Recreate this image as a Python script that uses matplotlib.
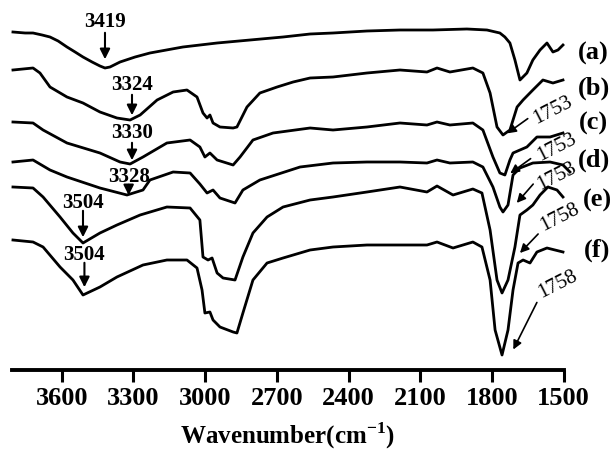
import matplotlib
matplotlib.use("Agg")
import matplotlib.pyplot as plt

plt.rcParams['font.family'] = ['Liberation Serif', 'DejaVu Serif']
plt.rcParams['mathtext.fontset'] = 'custom'
plt.rcParams['mathtext.rm'] = 'Liberation Serif:bold'
plt.rcParams['mathtext.bf'] = 'Liberation Serif:bold'

# ---- data: wavenumber (cm-1) and offset transmittance (a.u.) ----
wn_a = [3804, 3753, 3720, 3682, 3649, 3615, 3578, 3544, 3511, 3473, 3440, 3419, 3398, 3356, 3293,
        3231, 3093, 2950, 2812, 2674, 2561, 2465, 2323, 2185, 2047, 1905, 1821, 1767, 1746, 1725,
        1704, 1683, 1654, 1629, 1599, 1570, 1545, 1524, 1503]
t_a = [338, 337, 337, 335, 333, 329, 323, 318, 313, 308, 304, 302, 303, 308, 313,
       317, 323, 327, 330, 333, 336, 337, 339, 340, 340, 341, 340, 337, 333, 327,
       310, 290, 297, 310, 320, 327, 318, 320, 325]

wn_b = [3804, 3720, 3691, 3649, 3578, 3511, 3440, 3369, 3314, 3272, 3201, 3134, 3076, 3034, 3009,
        2992, 2980, 2967, 2938, 2883, 2867, 2825, 2771, 2699, 2632, 2561, 2465, 2323, 2185, 2072,
        2030, 1976, 1880, 1838, 1808, 1779, 1754, 1725, 1695, 1670, 1629, 1587, 1545, 1503]
t_b = [300, 302, 297, 283, 273, 267, 258, 252, 250, 255, 270, 278, 280, 273, 257,
       252, 255, 247, 243, 242, 243, 263, 277, 283, 288, 292, 293, 297, 300, 298,
       302, 298, 302, 297, 277, 243, 235, 240, 263, 270, 280, 290, 287, 290]

wn_c = [3804, 3720, 3678, 3578, 3440, 3356, 3314, 3260, 3160, 3063, 3022, 3001, 2980, 2950, 2883,
        2854, 2800, 2716, 2561, 2465, 2323, 2185, 2072, 2030, 1976, 1880, 1838, 1796, 1767, 1746,
        1725, 1712, 1654, 1612, 1557, 1503]
t_c = [248, 247, 240, 227, 217, 208, 206, 213, 227, 230, 223, 213, 217, 210, 205,
       213, 230, 237, 242, 240, 243, 247, 245, 248, 245, 247, 240, 213, 197, 195,
       210, 217, 223, 233, 233, 237]

wn_d = [3804, 3720, 3649, 3578, 3440, 3327, 3260, 3231, 3134, 3063, 3022, 2992, 2967, 2938, 2875,
        2842, 2771, 2603, 2465, 2323, 2185, 2072, 2030, 1976, 1880, 1838, 1796, 1767, 1754, 1733,
        1712, 1683, 1629, 1557, 1503, 1474]
t_d = [208, 210, 200, 193, 182, 175, 180, 190, 198, 197, 186, 177, 180, 172, 167,
       180, 190, 203, 207, 208, 208, 207, 210, 207, 208, 203, 183, 163, 158, 165,
       195, 202, 207, 208, 205, 198]

wn_e = [3804, 3720, 3678, 3607, 3553, 3511, 3440, 3369, 3272, 3160, 3063, 3022, 3009, 2988, 2971,
        2950, 2925, 2875, 2842, 2800, 2741, 2674, 2561, 2465, 2323, 2185, 2072, 2030, 1963, 1880,
        1842, 1808, 1779, 1758, 1733, 1704, 1683, 1654, 1629, 1599, 1566, 1528, 1503]
t_e = [183, 182, 173, 153, 137, 127, 137, 145, 155, 163, 162, 150, 113, 110, 112,
       97, 92, 90, 113, 137, 153, 163, 170, 173, 178, 183, 178, 184, 175, 181,
       177, 140, 90, 77, 90, 123, 155, 160, 165, 175, 183, 180, 173]

wn_f = [3804, 3720, 3678, 3607, 3553, 3511, 3440, 3369, 3260, 3160, 3076, 3034, 3013, 3001, 2980,
        2967, 2938, 2883, 2867, 2842, 2800, 2741, 2674, 2561, 2465, 2323, 2185, 2072, 2030, 1963,
        1880, 1842, 1808, 1787, 1758, 1733, 1712, 1691, 1670, 1641, 1612, 1570, 1503]
t_f = [130, 128, 123, 103, 90, 75, 83, 93, 105, 110, 110, 102, 80, 57, 58,
       50, 43, 38, 37, 57, 90, 107, 112, 120, 123, 125, 125, 125, 128, 122,
       128, 123, 90, 40, 15, 40, 80, 107, 110, 107, 118, 122, 118]

series = [(wn_a, t_a), (wn_b, t_b), (wn_c, t_c), (wn_d, t_d), (wn_e, t_e), (wn_f, t_f)]
curve_labels = ['(a)', '(b)', '(c)', '(d)', '(e)', '(f)']
curve_label_pos = [(1375, 317), (1375, 282), (1375, 247), (1375, 210), (1360, 170), (1360, 120)]

xticks = [3600, 3300, 3000, 2700, 2400, 2100, 1800, 1500]

# vertical OH arrows: (text, x, text_y, tail_y, head_y)
oh_marks = [("3419", 3419, 348, 340, 308),
            ("3324", 3306, 285, 278, 252),
            ("3330", 3306, 237, 230, 207),
            ("3328", 3320, 193, 188, 172),
            ("3504", 3511, 167, 162, 130),
            ("3504", 3505, 115, 110, 80)]
# carbonyl arrows: (text, text_x, text_y, tail_x, tail_y, head_x, head_y)
co_marks = [("1753", 1545, 260, 1641, 253, 1746, 235),
            ("1753", 1528, 223, 1629, 213, 1733, 195),
            ("1753", 1528, 194, 1620, 188, 1704, 165),
            ("1758", 1516, 152, 1599, 138, 1691, 115),
            ("1758", 1524, 85, 1607, 70, 1716, 18)]

fig = plt.figure(figsize=(6.13, 4.55), dpi=100)
ax = fig.add_axes([12 / 613, 85 / 455, (563.7 - 12) / 613, 370 / 455])

for wn, t in series:
    ax.plot(wn, t, color='black', lw=2.0, clip_on=False, solid_joinstyle='round')

for lab, (x, y) in zip(curve_labels, curve_label_pos):
    ax.text(x, y, lab, fontsize=19, fontweight='bold', ha='center', va='center', clip_on=False)

for txt, x, ty, y0, y1 in oh_marks:
    ax.annotate('', xy=(x, y1), xytext=(x, y0),
                arrowprops=dict(arrowstyle='-|>', color='black', lw=1.5, mutation_scale=15))
    ax.text(x, ty, txt, fontsize=15, fontweight='bold', ha='center', va='center')

for txt, tx, ty, x0, y0, x1, y1 in co_marks:
    ax.annotate('', xy=(x1, y1), xytext=(x0, y0),
                arrowprops=dict(arrowstyle='-|>', color='black', lw=1.2, mutation_scale=13),
                annotation_clip=False)
    ax.text(tx, ty, txt, fontsize=15, ha='center', va='center', rotation=27,
            clip_on=False)

ax.set_xlim(3808, 1500)
ax.set_ylim(0, 370)
ax.set_xticks(xticks)
ax.set_xticklabels([str(v) for v in xticks], fontsize=19, fontweight='bold')
ax.set_yticks([])
for s in ['top', 'left', 'right']:
    ax.spines[s].set_visible(False)
ax.spines['bottom'].set_linewidth(2.8)
ax.tick_params(axis='x', direction='out', length=8.5, width=2.2, pad=4)
ax.set_xlabel(r'Wavenumber(cm$^{-1}$)', fontsize=18, fontweight='bold', labelpad=7)

fig.savefig('out.png', dpi=100)
